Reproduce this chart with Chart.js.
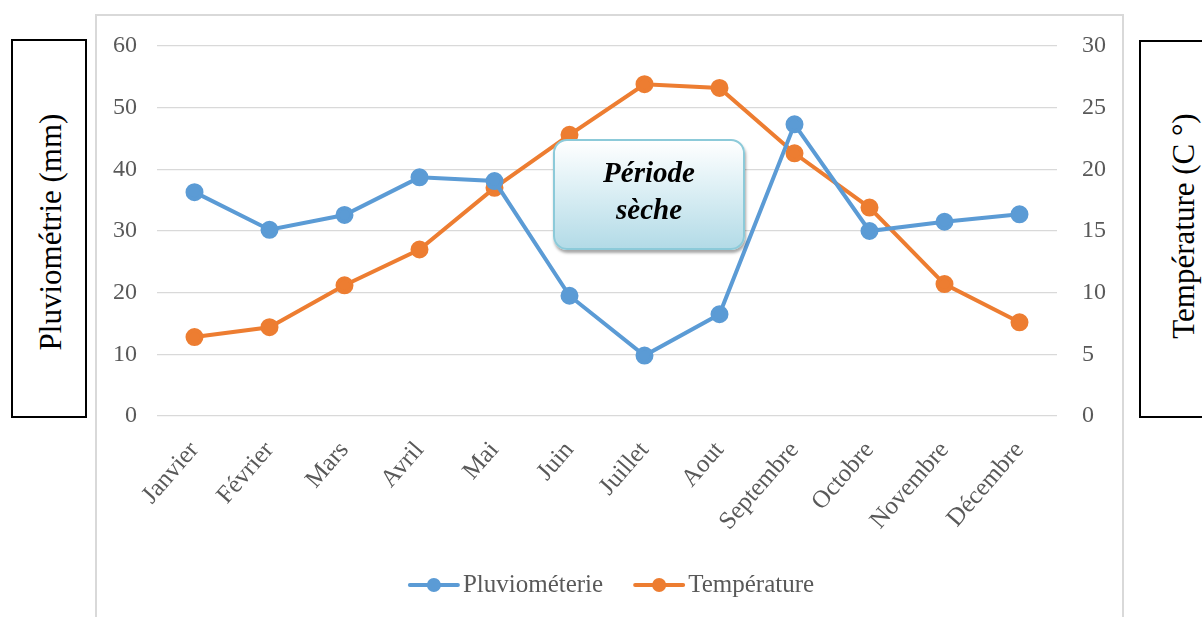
<!DOCTYPE html>
<html>
<head>
<meta charset="utf-8">
<title>Pluviométrie et température</title>
<script src="https://cdn.jsdelivr.net/npm/chart.js@4.4.1/dist/chart.umd.min.js"></script>
<style>
    html, body {
        margin: 0;
        padding: 0;
        background: #ffffff;
        overflow: hidden;
    }
    #wrap {
        position: relative;
        width: 1202px;
        height: 617px;
        overflow: hidden;
        font-family: "Liberation Serif", "Times New Roman", serif;
    }
    #frame {
        position: absolute;
        left: 95px;
        top: 14px;
        width: 1029px;
        height: 640px;
        border: 2px solid #d9d9d9;
        box-sizing: border-box;
    }
    #climateChart {
        position: absolute;
        left: 0;
        top: 0;
    }
    .axisBox {
        position: absolute;
        border: 2px solid #000000;
        box-sizing: border-box;
        background: #ffffff;
    }
    .axisBox span {
        position: absolute;
        white-space: nowrap;
        font-size: 31px;
        color: #000000;
        transform: translate(-50%, -50%) rotate(-90deg);
    }
    #dryBox {
        position: absolute;
        left: 553px;
        top: 139px;
        width: 192px;
        height: 111px;
        box-sizing: border-box;
        border: 2px solid #8ccad9;
        border-radius: 14px;
        background: linear-gradient(#ffffff 0%, #e0f1f6 40%, #b3dbe7 100%);
        box-shadow: 1px 3px 3px rgba(0, 0, 0, 0.35);
        text-align: center;
        font-weight: bold;
        font-style: italic;
        font-size: 29px;
        line-height: 37px;
        padding-top: 13px;
        color: #000000;
    }
</style>
</head>
<body>
<div id="wrap">
    <div id="frame"></div>
    <canvas id="climateChart" width="1202" height="617"></canvas>
    <div class="axisBox" style="left:11px; top:39px; width:76px; height:379px;">
        <span style="left:38px; top:191px;">Pluviométrie (mm)</span>
    </div>
    <div class="axisBox" style="left:1139px; top:40px; width:80px; height:378px;">
        <span style="left:43px; top:184px;">Température (C °)</span>
    </div>
    <div id="dryBox">Période<br>sèche</div>
</div>

<script>
// Valeurs
var months = ["Janvier", "Février", "Mars", "Avril", "Mai", "Juin", "Juillet", "Aout", "Septembre", "Octobre", "Novembre", "Décembre"];
var rainValues = [36.3, 30.2, 32.6, 38.7, 38.1, 19.5, 9.8, 16.5, 47.3, 30.0, 31.5, 32.7];
var tempValues = [6.4, 7.2, 10.6, 13.5, 18.5, 22.8, 26.9, 26.6, 21.3, 16.9, 10.7, 7.6];
var seriesNames = ["Pluviométerie", "Température"];
var seriesColors = ["#5b9bd5", "#ed7d31"];
var rainTicks = [0, 10, 20, 30, 40, 50, 60];
var tempTicks = [0, 5, 10, 15, 20, 25, 30];

var fontName = "'Liberation Serif', 'Times New Roman', serif";
var greyText = "#595959";

// legende dessinee a la main (trait + rond au milieu)
var lineLegend = {
    id: "lineLegend",
    afterDraw: function (chart) {
        var ctx = chart.ctx;
        var sets = chart.data.datasets;
        var markW = 52, gap = 3, between = 30;
        ctx.save();
        ctx.font = "25px " + fontName;
        var total = 0;
        for (var i = 0; i < sets.length; i++) {
            total += markW + gap + ctx.measureText(sets[i].label).width;
            if (i > 0) total += between;
        }
        var x = 611 - total / 2;
        var y = 585;
        for (var j = 0; j < sets.length; j++) {
            var col = sets[j].borderColor;
            ctx.strokeStyle = col;
            ctx.lineWidth = 4;
            ctx.lineCap = "round";
            ctx.beginPath();
            ctx.moveTo(x + 2, y);
            ctx.lineTo(x + markW - 2, y);
            ctx.stroke();
            ctx.fillStyle = col;
            ctx.beginPath();
            ctx.arc(x + markW / 2, y, 7, 0, Math.PI * 2);
            ctx.fill();
            x += markW + gap;
            ctx.fillStyle = greyText;
            ctx.textBaseline = "middle";
            ctx.textAlign = "left";
            ctx.fillText(sets[j].label, x, y);
            x += ctx.measureText(sets[j].label).width + between;
        }
        ctx.restore();
    }
};

document.addEventListener("DOMContentLoaded", function () {
    new Chart("climateChart", {
        type: "line",
        data: {
            labels: months,
            datasets: [{
                label: seriesNames[0],
                data: rainValues,
                yAxisID: "y",
                borderColor: seriesColors[0],
                backgroundColor: seriesColors[0],
                borderWidth: 4,
                pointRadius: 7,
                pointHoverRadius: 7,
                tension: 0
            }, {
                label: seriesNames[1],
                data: tempValues,
                yAxisID: "y1",
                borderColor: seriesColors[1],
                backgroundColor: seriesColors[1],
                borderWidth: 4,
                pointRadius: 7,
                pointHoverRadius: 7,
                tension: 0
            }]
        },
        options: {
            responsive: false,
            animation: false,
            layout: {
                padding: { top: 46, bottom: 0, left: 0, right: 0 }
            },
            plugins: {
                legend: { display: false },
                tooltip: { enabled: false }
            },
            scales: {
                x: {
                    offset: true,
                    grid: { display: false, drawTicks: false },
                    border: { display: false },
                    ticks: {
                        autoSkip: false,
                        minRotation: 49,
                        maxRotation: 49,
                        padding: 20,
                        color: greyText,
                        font: { family: fontName, size: 25 }
                    },
                    afterFit: function (scale) { scale.height = 201; }
                },
                y: {
                    position: "left",
                    min: rainTicks[0],
                    max: rainTicks[rainTicks.length - 1],
                    afterBuildTicks: function (scale) {
                        scale.ticks = rainTicks.map(function (v) { return { value: v }; });
                    },
                    grid: { color: "#d9d9d9", lineWidth: 1.3, drawTicks: false },
                    border: { display: false },
                    ticks: {
                        padding: 20,
                        color: greyText,
                        font: { family: fontName, size: 24 }
                    },
                    afterFit: function (scale) { scale.width = 157; }
                },
                y1: {
                    position: "right",
                    min: tempTicks[0],
                    max: tempTicks[tempTicks.length - 1],
                    afterBuildTicks: function (scale) {
                        scale.ticks = tempTicks.map(function (v) { return { value: v }; });
                    },
                    grid: { display: false, drawTicks: false },
                    border: { display: false },
                    ticks: {
                        padding: 25,
                        color: greyText,
                        font: { family: fontName, size: 24 }
                    },
                    afterFit: function (scale) { scale.width = 145; }
                }
            }
        },
        plugins: [lineLegend]
    });
});
</script>
</body>
</html>
